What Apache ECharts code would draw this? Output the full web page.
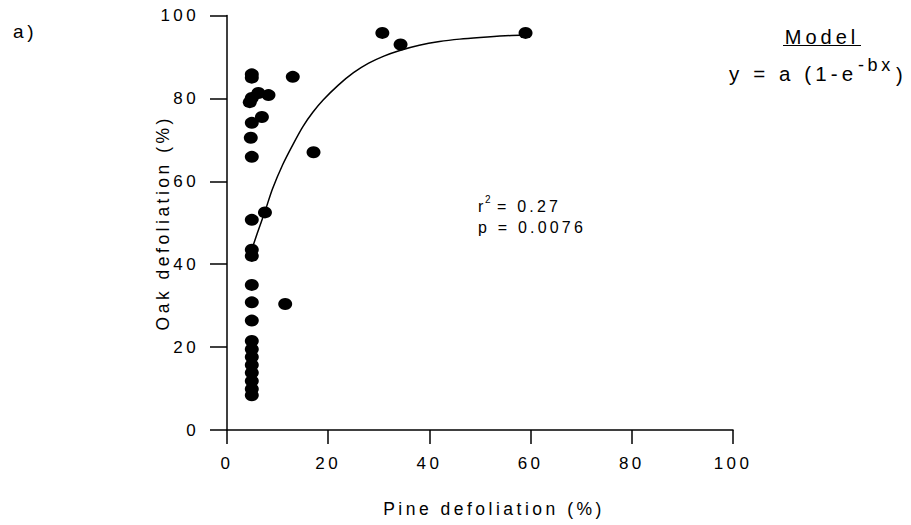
<!DOCTYPE html>
<html><head><meta charset="utf-8">
<script src="https://cdn.jsdelivr.net/npm/echarts@6/dist/echarts.min.js"></script>
<style>
html,body{margin:0;padding:0;background:#fff;}
#chart{width:911px;height:525px;}
#chart text{letter-spacing:0.2em;}
</style></head><body><div id="chart"></div>
<script>
// Observed points: pine defoliation (%) vs oak defoliation (%)
const pineDefol = [4.9, 4.9, 4.9, 4.5, 4.9, 4.7, 4.9, 4.9, 4.9, 4.9, 4.9, 4.9, 4.9, 4.9, 4.9, 4.9, 4.9, 4.9, 4.9, 4.9, 4.9,
                   6.2, 8.2, 6.9, 13.0, 17.1, 7.5, 11.5, 30.7, 34.3, 59.0];
const oakDefol  = [85.8, 85.0, 80.1, 79.1, 74.1, 70.5, 65.9, 50.7, 43.5, 42.0, 35.0, 30.8, 26.4, 21.5, 19.5, 17.6, 15.7, 13.8, 11.8, 9.9, 8.4,
                   81.3, 80.8, 75.5, 85.2, 67.0, 52.5, 30.4, 95.8, 93.0, 95.8];
// Fitted model curve
const curveX = [5.0, 6.0, 7.5, 9.0, 11.0, 13.0, 15.0, 17.0, 19.0, 22.0, 25.0, 28.0, 31.0, 34.0, 38.0, 42.0, 46.0, 50.0, 55.0, 59.0];
const curveY = [43.9, 47.5, 52.7, 58.2, 64.0, 68.8, 73.2, 76.7, 79.6, 83.2, 86.2, 88.5, 90.2, 91.5, 92.8, 93.7, 94.3, 94.7, 95.1, 95.3];
const axisMin = 0, axisMax = 100, axisStep = 20;
const xName = 'Pine defoliation (%)';
const yName = 'Oak defoliation (%)';

const FONT = '"Liberation Sans", Arial, sans-serif';
const chart = echarts.init(document.getElementById('chart'), null, {renderer: 'svg'});
const points = pineDefol.map((x, i) => [x, oakDefol[i]]);
const curve = curveX.map((x, i) => [x, curveY[i]]);

function axisCommon(tickLen, margin) {
  return {
    type: 'value', min: axisMin, max: axisMax, interval: axisStep,
    axisLine: {show: true, onZero: false, lineStyle: {color: '#000', width: 1.5}},
    axisTick: {show: true, length: tickLen, lineStyle: {color: '#000', width: 1.5}},
    axisLabel: {margin: margin, fontSize: 17, color: '#000', fontFamily: FONT},
    splitLine: {show: false},
    nameLocation: 'middle',
    nameMoveOverlap: false
  };
}
const tStyle = (text, size, align, extra) => Object.assign({text: text, font: size + 'px ' + FONT, fontSize: size, fontFamily: FONT, fill: '#000', textAlign: align, align: align, textVerticalAlign: 'middle', verticalAlign: 'middle'}, extra || {});

chart.setOption({
  animation: false,
  backgroundColor: '#fff',
  grid: {left: 227, right: 178, top: 15.5, bottom: 95},
  xAxis: Object.assign(axisCommon(14, 25), {name: xName, nameGap: 70,
    nameTextStyle: {fontSize: 17.5, color: '#000', fontFamily: FONT, padding: [0, 0, 0, 28]}}),
  yAxis: Object.assign(axisCommon(17, 28), {name: yName, nameGap: 55,
    nameTextStyle: {fontSize: 17.5, color: '#000', fontFamily: FONT}}),
  series: [
    {type: 'line', data: curve, smooth: 0.3, showSymbol: false, silent: true,
     lineStyle: {color: '#000', width: 1.5}},
    {type: 'scatter', data: points, symbol: 'circle', symbolSize: [14, 12],
     itemStyle: {color: '#000', opacity: 1}}
  ],
  graphic: [
    {type: 'text', x: 13, y: 31, style: tStyle('a)', 19, 'left')},
    {type: 'text', x: 478, y: 206, style: tStyle('r', 16, 'left')},
    {type: 'text', x: 485, y: 199, style: tStyle('2', 10, 'left')},
    {type: 'text', x: 497, y: 206, style: tStyle('= 0.27', 16, 'left')},
    {type: 'text', x: 478, y: 227, style: tStyle('p = 0.0076', 16, 'left')},
    {type: 'text', x: 822, y: 37, style: tStyle('Model', 20, 'center')},
    {type: 'line', shape: {x1: 783, y1: 45.5, x2: 861, y2: 45.5}, style: {stroke: '#000', lineWidth: 1.2}},
    {type: 'text', x: 729, y: 73, style: tStyle('y = a (1-e', 20.5, 'left')},
    {type: 'text', x: 858, y: 65, style: tStyle('-bx', 18, 'left')},
    {type: 'text', x: 896, y: 75, style: tStyle(')', 20, 'left')}
  ]
});
</script></body></html>
